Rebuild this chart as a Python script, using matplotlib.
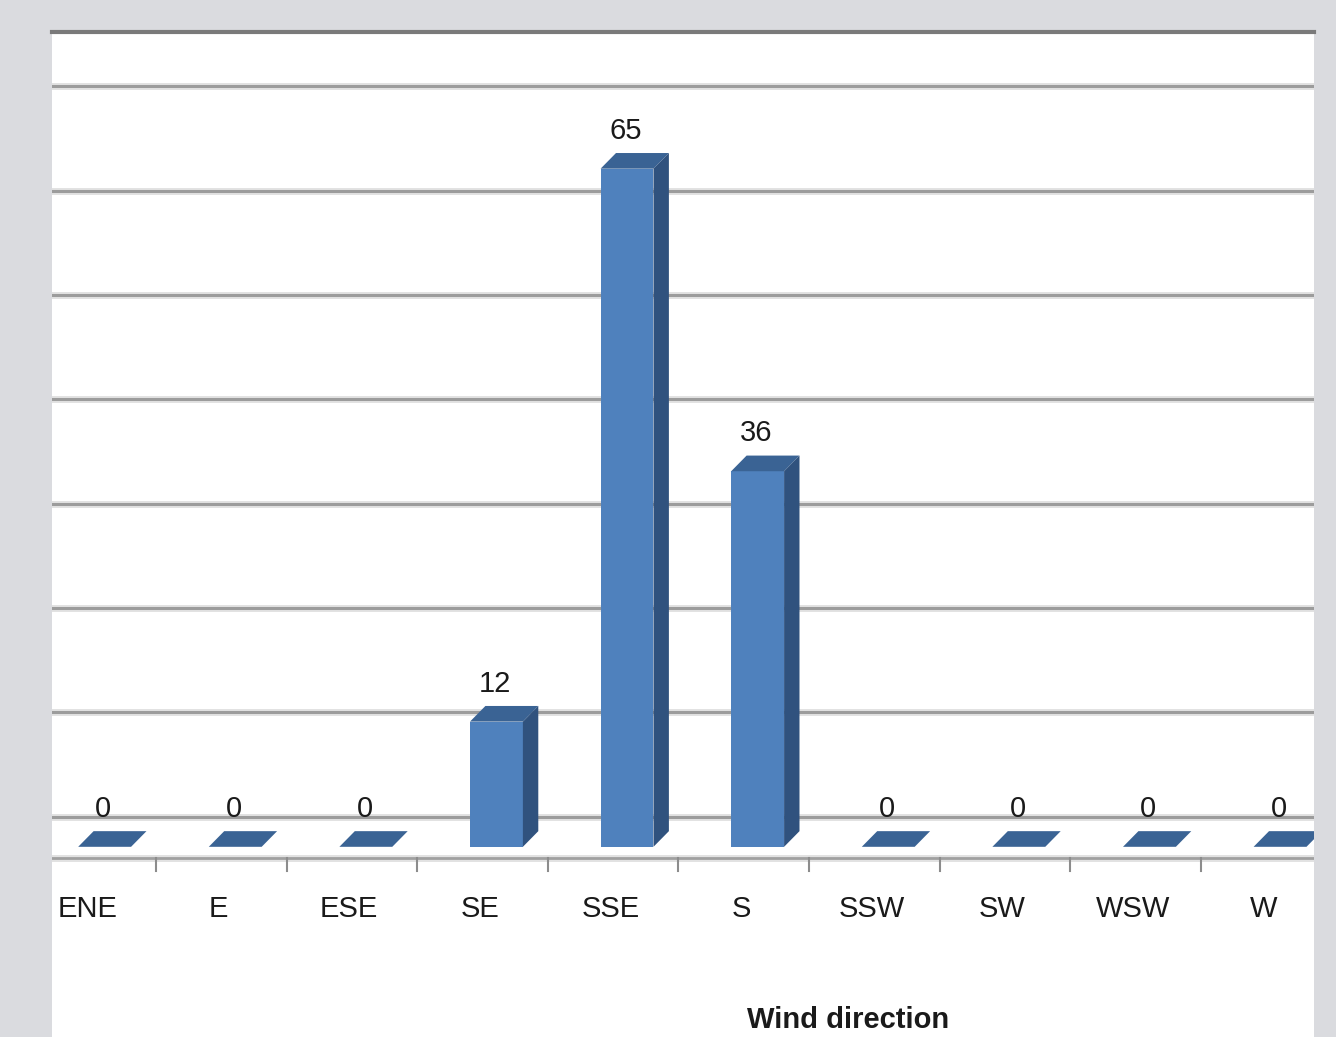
import matplotlib.pyplot as plt
from matplotlib.patches import Polygon
import numpy as np

# wind direction counts
directions = ["ENE", "E", "ESE", "SE", "SSE", "S", "SSW", "SW", "WSW", "W"]
counts = [0, 0, 0, 12, 65, 36, 0, 0, 0, 0]
grid_values = [0, 10, 20, 30, 40, 50, 60, 70]

plt.rcParams["font.family"] = ["Liberation Sans Narrow", "Liberation Sans", "DejaVu Sans"]

FRONT = "#4f81bd"
SIDE = "#30527e"
TOP = "#3a6394"

# fake 3d geometry (in data units)
bar_w = 0.405
bar_shift = 0.107
depth_dx = 0.118
depth_dy = 1.5
wall_dy = 2.88

fig = plt.figure(figsize=(13.36, 10.37), dpi=100, facecolor="#dadbdf")
ax = fig.add_axes([52 / 1336, 0, (1314 - 52) / 1336, 1 - 32 / 1037])
ax.set_facecolor("white")

x = np.arange(len(directions))
ax.set_xlim(-0.296, 9.367)
ax.set_ylim(-18.23, 78.1)

# back wall gridlines with a soft edge
for g in grid_values:
    ax.axhline(g + wall_dy, color="#e2e2e2", lw=5, zorder=1)
    ax.axhline(g + wall_dy, color="#9c9c9c", lw=2.2, zorder=1.1)

# floor front edge and tick marks
ax.axhline(-1.06, color="#e2e2e2", lw=5, zorder=1)
ax.axhline(-1.06, color="#a0a0a0", lw=2, zorder=1.1)
for t in x[:-1] + 0.5:
    ax.plot([t, t], [-1.06, -2.3], color="#8c8c8c", lw=1.5, zorder=1.1)

# bars: front face, right side, top
xs = x + bar_shift
ax.bar(xs, counts, width=bar_w, color=FRONT, zorder=3, linewidth=0)
for xc, v in zip(xs, counts):
    x0, x1 = xc - bar_w / 2, xc + bar_w / 2
    top = [(x0, v), (x1, v), (x1 + depth_dx, v + depth_dy), (x0 + depth_dx, v + depth_dy)]
    ax.add_patch(Polygon(top, closed=True, facecolor=TOP, edgecolor="none", zorder=3))
    if v > 0:
        side = [(x1, 0), (x1 + depth_dx, depth_dy), (x1 + depth_dx, v + depth_dy), (x1, v)]
        ax.add_patch(Polygon(side, closed=True, facecolor=SIDE, edgecolor="none", zorder=3))
    ax.text(xc - 0.01, v + 2.3, str(v), ha="center", va="bottom",
            fontsize=21, color="#1a1a1a", zorder=4)

# category labels
for xi, name in zip(x, directions):
    ax.text(xi - 0.02, -5.95, name, ha="center", va="center", fontsize=21, color="#1a1a1a")

ax.text(5.8, -16.6, "Wind direction", ha="center", va="center",
        fontsize=21, fontweight="bold", color="#1a1a1a")

ax.set_xticks([])
ax.set_yticks([])
for s in ["left", "right", "bottom"]:
    ax.spines[s].set_visible(False)
ax.spines["top"].set_color("#7a7a7a")
ax.spines["top"].set_linewidth(3)

fig.savefig("out.png", dpi=100, facecolor=fig.get_facecolor())
